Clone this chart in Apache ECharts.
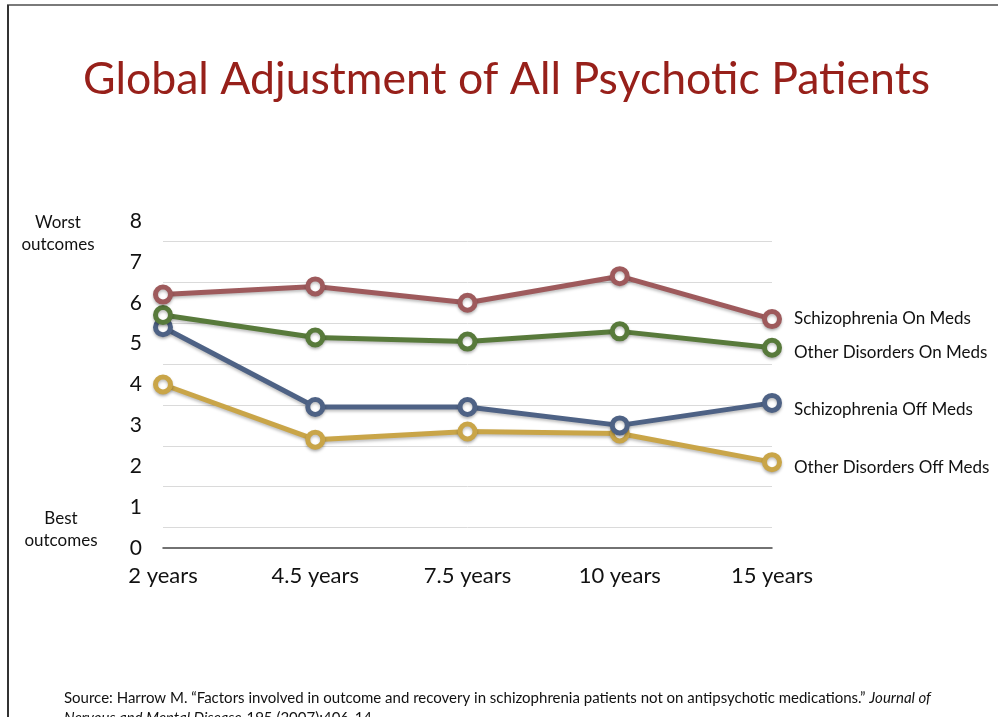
<!DOCTYPE html>
<html>
<head>
<meta charset="utf-8">
<script src="https://cdn.jsdelivr.net/npm/echarts@6/dist/echarts.min.js"></script>
<style>
html,body{margin:0;padding:0;background:#fff;}
#chart{width:998px;height:717px;}
</style>
</head>
<body>
<div id="chart"></div>
<script>
var categories = ['2 years', '4.5 years', '7.5 years', '10 years', '15 years'];
var schizOnMeds = [6.2, 6.4, 6.0, 6.65, 5.6];
var otherOnMeds = [5.7, 5.15, 5.05, 5.3, 4.9];
var schizOffMeds = [5.4, 3.45, 3.45, 3.0, 3.55];
var otherOffMeds = [4.0, 2.65, 2.85, 2.8, 2.1];
var yTicks = [0, 1, 2, 3, 4, 5, 6, 7, 8];
var gridValues = [0.5, 1.5, 2.5, 3.5, 4.5, 5.5, 6.5, 7.5];
var seriesNames = ['Schizophrenia On Meds', 'Other Disorders On Meds', 'Schizophrenia Off Meds', 'Other Disorders Off Meds'];

var FONT = 'Lato';
var colors = ['#9e5a5c', '#587a3b', '#4e6285', '#c9a548'];
var labelOffsets = [[0, -1], [0, 5], [0, 7], [0, 5]];
var allData = [schizOnMeds, otherOnMeds, schizOffMeds, otherOffMeds];

function makeSeries(i, z) {
  var s = {
    name: seriesNames[i],
    type: 'line',
    data: allData[i],
    z: z,
    symbol: 'circle',
    symbolSize: 15,
    showAllSymbol: true,
    lineStyle: { color: colors[i], width: 5, shadowColor: 'rgba(0,0,0,0.25)', shadowBlur: 3, shadowOffsetY: 2 },
    itemStyle: { color: '#ffffff', borderColor: colors[i], borderWidth: 5, shadowColor: 'rgba(0,0,0,0.25)', shadowBlur: 3, shadowOffsetY: 2 },
    emphasis: { disabled: true },
    endLabel: {
      show: true,
      formatter: seriesNames[i],
      color: '#111',
      fontFamily: FONT,
      fontSize: 17,
      distance: 22,
      offset: labelOffsets[i]
    },
    animation: false
  };
  return s;
}

var series = [
  makeSeries(3, 2),
  makeSeries(2, 3),
  makeSeries(1, 4),
  makeSeries(0, 5)
];
series[0].markLine = {
  silent: true,
  symbol: 'none',
  label: { show: false },
  lineStyle: { color: '#dadada', width: 1, type: 'solid' },
  data: gridValues.map(function (v) { return { yAxis: v }; }),
  z: 1
};

var chart = echarts.init(document.getElementById('chart'), null, { renderer: 'canvas' });
chart.setOption({
  backgroundColor: '#ffffff',
  animation: false,
  title: [
    {
      text: 'Global Adjustment of All Psychotic Patients',
      left: 78,
      top: 52,
      textStyle: { color: '#97201a', fontFamily: FONT, fontSize: 44.6, fontWeight: 'normal' }
    },
    {
      text: '{n|Source: Harrow M. \u201cFactors involved in outcome and recovery in schizophrenia patients not on antipsychotic medications.\u201d }{i|Journal of}\n{i|Nervous and Mental Disease} {n|195 (2007):406-14.}',
      left: 59,
      top: 683,
      textStyle: {
        rich: {
          n: { fontFamily: FONT, fontSize: 15, color: '#111', fontWeight: 'normal', lineHeight: 20 },
          i: { fontFamily: FONT, fontSize: 15, color: '#111', fontWeight: 'normal', fontStyle: 'italic', lineHeight: 20 }
        }
      }
    },
    {
      text: 'Worst\noutcomes',
      left: 53, textAlign: 'center',
      top: 207,
      textStyle: { fontFamily: FONT, fontSize: 17, color: '#111', fontWeight: 'normal', lineHeight: 22 }
    },
    {
      text: 'Best\noutcomes',
      left: 56, textAlign: 'center',
      top: 503,
      textStyle: { fontFamily: FONT, fontSize: 17, color: '#111', fontWeight: 'normal', lineHeight: 22 }
    }
  ],
  grid: { left: 163, right: 226, top: 221, bottom: 169, containLabel: false },
  xAxis: {
    type: 'category',
    data: categories,
    boundaryGap: false,
    axisLine: { show: true, lineStyle: { color: '#444', width: 1.5 } },
    axisTick: { show: false },
    axisLabel: { color: '#111', fontFamily: FONT, fontSize: 22, margin: 17 },
    splitLine: { show: false }
  },
  yAxis: {
    type: 'value',
    min: yTicks[0],
    max: yTicks[yTicks.length - 1],
    interval: 1,
    axisLine: { show: false },
    axisTick: { show: false },
    splitLine: { show: false },
    axisLabel: { color: '#111', fontFamily: FONT, fontSize: 21, margin: 21 }
  },
  graphic: [
    { type: 'line', shape: { x1: 7, y1: 5, x2: 998, y2: 5 }, style: { stroke: '#7a7a7a', lineWidth: 2 }, silent: true },
    { type: 'line', shape: { x1: 8, y1: 5, x2: 8, y2: 717 }, style: { stroke: '#333', lineWidth: 2 }, silent: true }
  ],
  series: series
});
</script>
</body>
</html>
